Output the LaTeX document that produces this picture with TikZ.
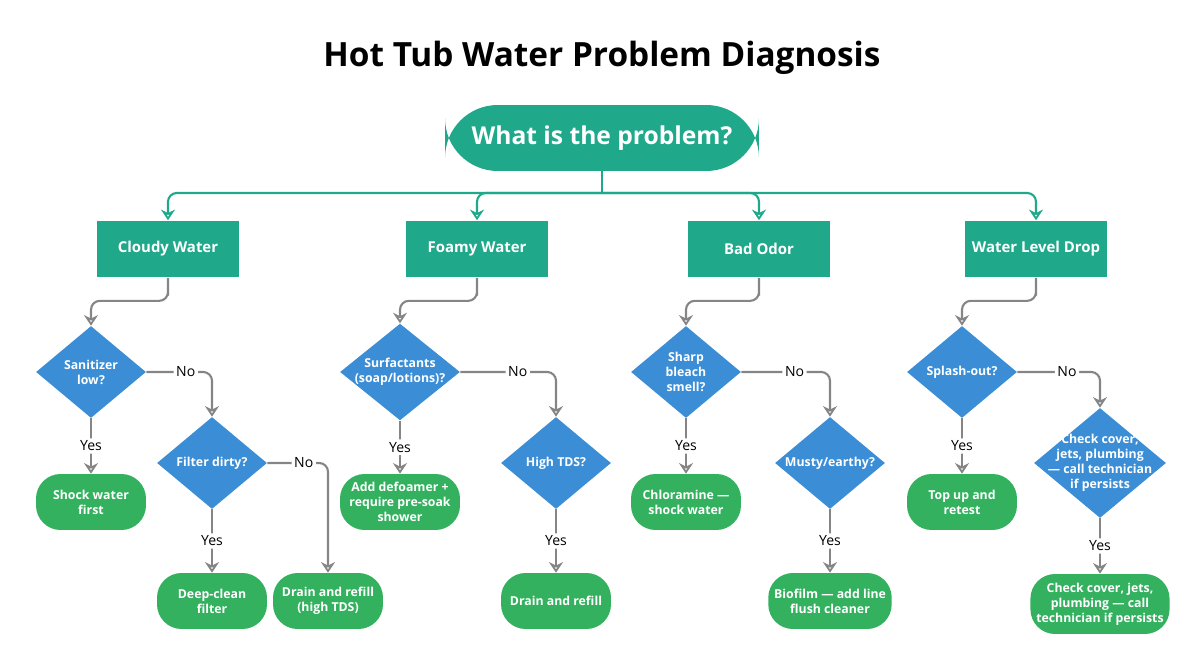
\documentclass[tikz,border=0pt]{standalone}
\usepackage{fontspec}
\setmainfont{Open Sans}
\usetikzlibrary{arrows.meta,shapes.geometric,positioning}
\definecolor{tealbox}{HTML}{1FA98A}
\definecolor{bluedia}{HTML}{3B8ED5}
\definecolor{greenend}{HTML}{33B15F}
\definecolor{linegray}{HTML}{858585}

\begin{document}
\begin{tikzpicture}[x=0.02cm, y=-0.02cm, >={Stealth[length=6pt,width=8pt,open]},
                    font=\bfseries]
    \tikzstyle{root}=[rectangle, rounded corners=30pt, fill=tealbox, text=white,
                      minimum width=6.28cm, minimum height=1.32cm, font=\bfseries\fontsize{14}{16}\selectfont]
    \tikzstyle{cat}=[rectangle, fill=tealbox, text=white, minimum width=2.84cm,
                     minimum height=1.14cm, font=\bfseries\fontsize{8.5}{10}\selectfont]
    \tikzstyle{ask}=[diamond, fill=bluedia, text=white, inner sep=-3pt, align=center,
                     minimum width=2.2cm, minimum height=1.84cm, font=\bfseries\fontsize{7}{8.5}\selectfont]
    \tikzstyle{done}=[rectangle, rounded corners=14pt, fill=greenend, text=white, align=center,
                      minimum width=2.2cm, minimum height=1.12cm, font=\bfseries\fontsize{7}{8.5}\selectfont]
    \tikzstyle{link}=[->, draw=linegray, line width=1.2pt, rounded corners=5pt]
    \tikzstyle{answer}=[fill=white, inner sep=1.5pt, font=\fontsize{8}{9}\selectfont]

    \useasboundingbox (0,0) rectangle (1204,672);

    \node[font=\bfseries\fontsize{19}{22}\selectfont] (title) at (602,58) {Hot Tub Water Problem Diagnosis};
    \node[root] (problem) at (602,138) {What is the problem?};

    \node[cat] (cloudy) at (168,249) {Cloudy Water};
    \node[cat] (foamy)  at (477,249) {Foamy Water};
    \node[cat] (odor)   at (759,249) {Bad Odor};
    \node[cat] (level)  at (1036,249) {Water Level Drop};

    \node[ask] (sanitizer)  at (91,372)  {Sanitizer\\low?};
    \node[ask] (filter)     at (212,463) {Filter dirty?};
    \node[ask, minimum width=2.4cm] (surfactant) at (400,372) {Surfactants\\(soap/lotions)?};
    \node[ask] (tds)        at (556,463) {High TDS?};
    \node[ask] (bleach)     at (686,372) {Sharp\\bleach\\smell?};
    \node[ask] (musty)      at (830,463) {Musty/earthy?};
    \node[ask] (splash)     at (962,372) {Splash-out?};
    \node[ask, inner sep=-9pt, minimum width=2.64cm, minimum height=2.2cm]
                            (leak)       at (1100,463) {Check cover,\\jets, plumbing\\— call technician\\if persists};

    \node[done] (shock)     at (91,502)  {Shock water\\first};
    \node[done] (deepclean) at (212,601) {Deep-clean\\filter};
    \node[done] (drainhigh) at (328,601) {Drain and refill\\(high TDS)};
    \node[done, minimum width=2.4cm] (defoamer) at (400,502) {Add defoamer +\\require pre-soak\\shower};
    \node[done] (drain)     at (556,601) {Drain and refill};
    \node[done] (chloramine) at (686,502) {Chloramine —\\shock water};
    \node[done] (biofilm)   at (830,601) {Biofilm — add line\\flush cleaner};
    \node[done] (topup)     at (962,502) {Top up and\\retest};
    \node[done, minimum width=2.64cm, minimum height=1.2cm] (tech) at (1100,604)
                            {Check cover, jets,\\plumbing — call\\technician if persists};

    % root to categories
    \coordinate (split) at (602,193);
    \draw[draw=tealbox, line width=1.2pt] (problem.south) -- (split);
    \foreach \c in {cloudy,foamy,odor,level}
        \draw[link, draw=tealbox] (split) -| (\c.north);

    % categories to first questions
    \draw[link] (cloudy.south) |- ++(0,23) -| (sanitizer.north);
    \draw[link] (foamy.south)  |- ++(0,23) -| (surfactant.north);
    \draw[link] (odor.south)   |- ++(0,23) -| (bleach.north);
    \draw[link] (level.south)  |- ++(0,23) -| (splash.north);

    % yes branches
    \foreach \a/\b in {sanitizer/shock, filter/deepclean, surfactant/defoamer, tds/drain,
                       bleach/chloramine, musty/biofilm, splash/topup, leak/tech}
        \draw[link] (\a.south) -- node[answer] {Yes} (\b.north);

    % no branches
    \foreach \a/\b in {sanitizer/filter, filter/drainhigh, surfactant/tds, bleach/musty, splash/leak}
        \draw[link] (\a.east) -| node[answer, pos=0.3] {No} (\b.north);
\end{tikzpicture}
\end{document}
